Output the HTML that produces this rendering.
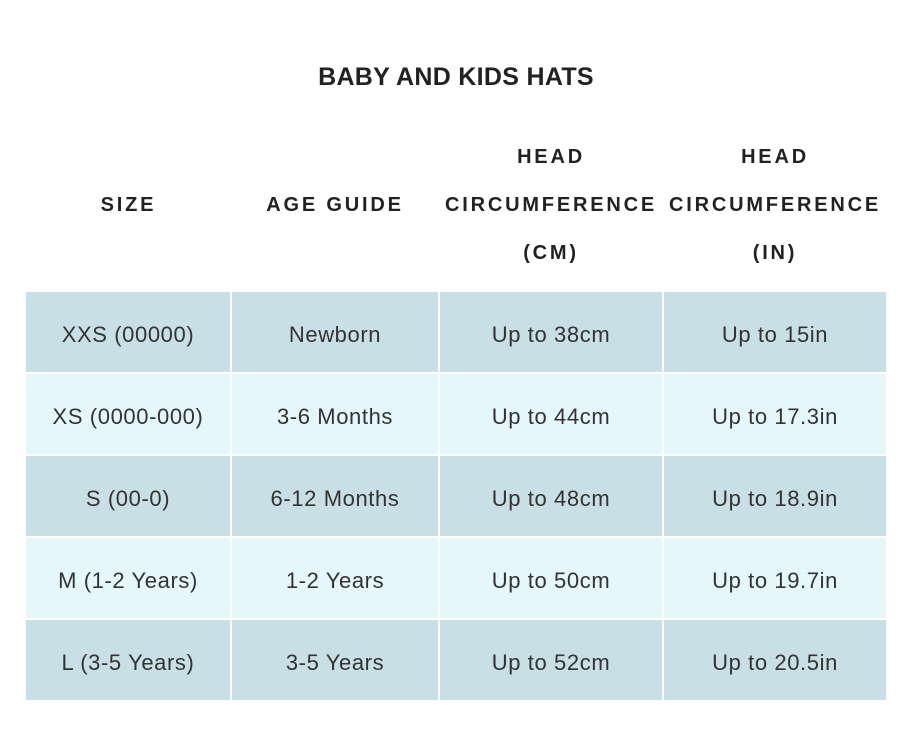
<!DOCTYPE html>
<html><head><style>
body{margin:0;width:912px;height:746px;background:#fff;font-family:"Liberation Sans",sans-serif;color:#222;position:relative;overflow:hidden}
.t{position:absolute;left:0;width:912px;top:63px;text-align:center;font-size:25px;font-weight:bold;letter-spacing:0.3px}
.h{position:absolute;text-align:center;font-size:20px;font-weight:bold;letter-spacing:2.8px;white-space:nowrap;line-height:22px}
.c{position:absolute;display:flex;align-items:center;justify-content:center;font-size:22px;letter-spacing:0.6px;color:#333;box-sizing:border-box;padding-top:5px}
</style></head><body>
<div class="t">BABY AND KIDS HATS</div>
<div class="h" style="left:26px;width:205px;top:194px">SIZE</div>
<div class="h" style="left:231px;width:208px;top:194px">AGE GUIDE</div>
<div class="h" style="left:439px;width:224px;top:146px">HEAD</div>
<div class="h" style="left:439px;width:224px;top:194px">CIRCUMFERENCE</div>
<div class="h" style="left:439px;width:224px;top:242px">(CM)</div>
<div class="h" style="left:663px;width:224px;top:146px">HEAD</div>
<div class="h" style="left:663px;width:224px;top:194px">CIRCUMFERENCE</div>
<div class="h" style="left:663px;width:224px;top:242px">(IN)</div>
<div id="tb"></div>
<script>
var rows=[["XXS (00000)","Newborn","Up to 38cm","Up to 15in"],["XS (0000-000)","3-6 Months","Up to 44cm","Up to 17.3in"],["S (00-0)","6-12 Months","Up to 48cm","Up to 18.9in"],["M (1-2 Years)","1-2 Years","Up to 50cm","Up to 19.7in"],["L (3-5 Years)","3-5 Years","Up to 52cm","Up to 20.5in"]];
var cx=[[26,230],[232,438],[440,662],[664,886]];
var h="";
rows.forEach(function(r,i){var y=292+i*82;var bg=i%2?"#e6f7fc":"#c8dfe5";
r.forEach(function(t,j){h+='<div class="c" style="left:'+cx[j][0]+'px;width:'+(cx[j][1]-cx[j][0])+'px;top:'+y+'px;height:80px;background:'+bg+'">'+t+'</div>';});});
document.getElementById("tb").innerHTML=h;
</script>
</body></html>
